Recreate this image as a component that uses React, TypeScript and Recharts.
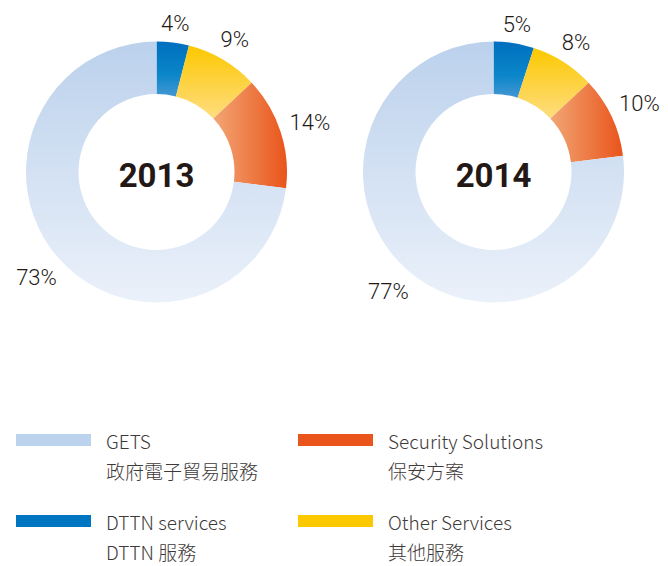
import React from 'react';
import { PieChart, Pie, Cell } from 'recharts';

const categories = ['DTTN services', 'Other Services', 'Security Solutions', 'GETS'];
const categoriesZh = ['DTTN 服務', '其他服務', '保安方案', '政府電子貿易服務'];
const years = ['2013', '2014'];
const values2013 = [4, 9, 14, 73];
const values2014 = [5, 8, 10, 77];

const gradIds = ['gDttn', 'gOther', 'gSec', 'gGets'];
const legendColors = ['#0075c1', '#fcc800', '#e9551b', '#bcd3ee'];
// legend order: GETS, Security | DTTN, Other
const legendOrder = [3, 2, 0, 1];

const RADIAN = Math.PI / 180;
const TEXT = '#231815';

const renderLabel = (props: any) => {
  const { cx, cy, midAngle, outerRadius, value } = props;
  const txt = `${value}%`;
  const w = String(value).length * 12.3 + 16;
  const h = 16;
  const c = Math.cos(midAngle * RADIAN);
  const s = Math.sin(midAngle * RADIAN);
  const r = outerRadius + 9;
  const d = r + Math.abs(c) * (w / 2) + Math.abs(s) * (h / 2);
  const x = cx + d * c;
  const y = cy - d * s;
  return (
    <text
      x={x}
      y={y}
      textAnchor="middle"
      dominantBaseline="central"
      fill={TEXT}
      fontSize={22}
      fontWeight={300}
      fontFamily="Roboto, 'Noto Sans', sans-serif"
    >
      {txt}
    </text>
  );
};

const toData = (vals: number[]) => categories.map((name, i) => ({ name, value: vals[i] }));

export default function App() {
  const centers = [156.5, 493.5];
  const cy = 172;
  const series = [values2013, values2014];
  return (
    <div style={{ position: 'absolute', left: 0, top: 0, width: 668, height: 566, background: '#fff' }}>
      <PieChart width={668} height={330} margin={{ top: 0, right: 0, bottom: 0, left: 0 }}>
        <defs>
          <linearGradient id="gDttn" x1="0" y1="0" x2="0" y2="1">
            <stop offset="0%" stopColor="#006fbf" />
            <stop offset="60%" stopColor="#0a86c9" />
            <stop offset="100%" stopColor="#4597d3" />
          </linearGradient>
          <linearGradient id="gOther" x1="0" y1="0" x2="0" y2="1">
            <stop offset="0%" stopColor="#fcc800" />
            <stop offset="100%" stopColor="#fedd80" />
          </linearGradient>
          <linearGradient id="gSec" x1="0" y1="0" x2="1" y2="0">
            <stop offset="0%" stopColor="#f2a675" />
            <stop offset="100%" stopColor="#e9541a" />
          </linearGradient>
          <linearGradient id="gGets" x1="0" y1="0" x2="0" y2="1">
            <stop offset="0%" stopColor="#bbd1ec" />
            <stop offset="100%" stopColor="#ebf1fa" />
          </linearGradient>
        </defs>
        {series.map((vals, k) => (
          <Pie
            key={years[k]}
            data={toData(vals)}
            dataKey="value"
            nameKey="name"
            cx={centers[k]}
            cy={cy}
            innerRadius={78}
            outerRadius={130.5}
            startAngle={90}
            endAngle={-270}
            stroke="none"
            label={renderLabel}
            labelLine={false}
            isAnimationActive={false}
          >
            {vals.map((_, i) => (
              <Cell key={i} fill={`url(#${gradIds[i]})`} />
            ))}
          </Pie>
        ))}
        {years.map((yr, k) => (
          <text
            key={yr}
            x={centers[k]}
            y={cy + 3}
            textAnchor="middle"
            dominantBaseline="central"
            fontSize={33}
            fontWeight={700}
            fill={TEXT}
            fontFamily="Roboto, 'Noto Sans', sans-serif"
          >
            {yr}
          </text>
        ))}
      </PieChart>
      {legendOrder.map((idx, j) => {
        const col = j % 2;
        const row = Math.floor(j / 2);
        const left = col === 0 ? 16 : 298;
        const top = row === 0 ? 434 : 515;
        return (
          <div key={categories[idx]}>
            <div
              style={{
                position: 'absolute',
                left,
                top,
                width: 75,
                height: 12,
                background: legendColors[idx],
              }}
            />
            <div
              style={{
                position: 'absolute',
                left: left + 90,
                top: top - 3,
                fontSize: 19,
                lineHeight: '20px',
                color: '#3e3a39',
                fontFamily: "'Noto Sans CJK TC', sans-serif",
                fontWeight: 300,
                whiteSpace: 'nowrap',
              }}
            >
              {categories[idx]}
            </div>
            <div
              style={{
                position: 'absolute',
                left: left + 90,
                top: top + 27,
                fontSize: 19,
                lineHeight: '19px',
                color: '#3e3a39',
                fontFamily: "'Noto Sans CJK TC', sans-serif",
                fontWeight: 300,
                whiteSpace: 'nowrap',
              }}
            >
              {categoriesZh[idx]}
            </div>
          </div>
        );
      })}
    </div>
  );
}
